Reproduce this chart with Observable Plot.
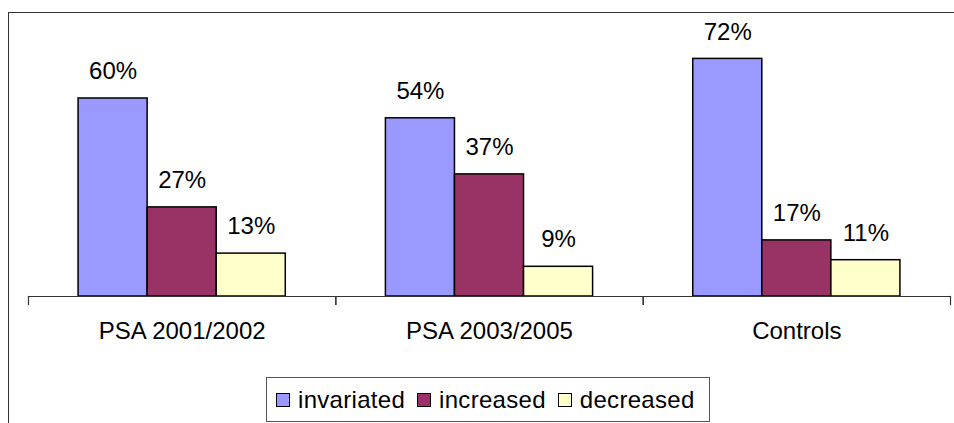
<!DOCTYPE html>
<html>
<head>
<meta charset="utf-8">
<script src="https://cdn.jsdelivr.net/npm/d3@7"></script>
<script src="https://cdn.jsdelivr.net/npm/@observablehq/plot@0.6"></script>
<style>
  html, body { margin: 0; padding: 0; background: #fff; }
  body { width: 954px; height: 423px; overflow: hidden; position: relative; font-family: "Liberation Sans", Arial, sans-serif; }
  #frame { position: absolute; left: 8px; top: 12px; width: 960px; height: 430px; border: 1px solid #333; box-sizing: border-box; pointer-events: none; }
  #chart { position: absolute; left: 0; top: 0; }
  #legend { position: absolute; left: 266px; top: 377px; width: 444px; height: 45px; box-sizing: border-box; border: 1px solid #555; background: #fff;
            display: flex; align-items: center; padding-left: 9px; font-size: 24px; letter-spacing: 0.3px; color: #000; }
  .item { display: flex; align-items: center; margin-right: 12px; }
  .sw { width: 14px; height: 14px; box-sizing: border-box; border: 1.5px solid #000; margin-right: 8px; }
</style>
</head>
<body>
<div id="frame"></div>
<div id="chart"></div>
<div id="legend"></div>
<script>
const categories = ["PSA 2001/2002", "PSA 2003/2005", "Controls"];
const series = ["invariated", "increased", "decreased"];
const invariated = [60, 54, 72];
const increased = [27, 37, 17];
const decreased = [13, 9, 11];
const colors = ["#9999FF", "#993366", "#FFFFCC"];

const valuesBySeries = {invariated, increased, decreased};
const data = [];
categories.forEach((c, i) => series.forEach(s => data.push({cat: c, series: s, value: valuesBySeries[s][i]})));

const font = "'Liberation Sans', Arial, sans-serif";

const chart = Plot.plot({
  width: 954,
  height: 423,
  marginTop: 32,
  marginBottom: 127,
  marginLeft: 28,
  marginRight: 4,
  style: {fontFamily: font, background: "transparent", color: "#000"},
  fx: {domain: categories, padding: 0, round: false, label: null, axis: null},
  x: {domain: series, paddingInner: 0, paddingOuter: 0.725, round: false, axis: null},
  y: {domain: [0, 80], axis: null},
  color: {domain: series, range: colors},
  marks: [
    Plot.barY(data, {fx: "cat", x: "series", y: "value", fill: "series", stroke: "#000", strokeWidth: 1.5}),
    Plot.ruleY([0], {stroke: "#333", strokeWidth: 1.2}),
    Plot.frame({anchor: "left", insetTop: 264, insetBottom: -8, stroke: "#333", strokeWidth: 1.2}),
    Plot.frame({anchor: "right", insetTop: 264, insetBottom: -8, stroke: "#333", strokeWidth: 1.2}),
    Plot.text(data, {fx: "cat", x: "series", y: "value", text: d => d.value + "%", dy: -27, fontSize: 24, fill: "#000"}),
    Plot.axisFx({anchor: "bottom", tickSize: 0, tickPadding: 25, fontSize: 24, label: null, fill: "#000"})
  ]
});
document.getElementById("chart").appendChild(chart);

const legend = d3.select("#legend");
series.forEach((s, i) => {
  const it = legend.append("div").attr("class", "item");
  it.append("div").attr("class", "sw").style("background", colors[i]);
  it.append("span").text(s);
});
</script>
</body>
</html>
